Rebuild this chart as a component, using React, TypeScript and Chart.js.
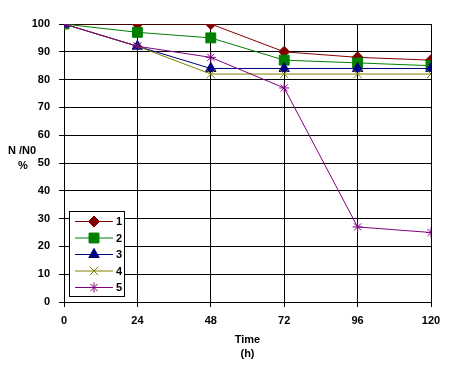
import React, { useEffect, useRef } from "react";
import { Chart, registerables } from "chart.js";
import { drawPoint } from "chart.js/helpers";

Chart.register(...registerables);

const timeHours = [0, 24, 48, 72, 96, 120];
const series1 = [100, 100, 100, 90, 88, 87];
const series2 = [100, 97, 95, 87, 86, 85];
const series3 = [100, 92, 84, 84, 84, 84];
const series4 = [100, 92, 82, 82, 82, 82];
const series5 = [100, 92, 88, 77, 27, 25];
const seriesLabels = ["1", "2", "3", "4", "5"];
const xTicks = [0, 24, 48, 72, 96, 120];

const FONT = "'Liberation Sans', Arial, sans-serif";

export default function App() {
  const ref = useRef<HTMLCanvasElement | null>(null);
  useEffect(() => {
    const canvas = ref.current;
    if (!canvas) return;
    const colors = ["#800000", "#008000", "#000080", "#808000", "#800080"];
    const styles = ["rectRot", "rect", "triangle", "crossRot", "star"];
    const radii = [5.5, 7, 6, 6, 5];
    const all = [series1, series2, series3, series4, series5];
    const datasets = all.map((s, i) => ({
      label: seriesLabels[i],
      data: s.map((v, j) => ({ x: timeHours[j], y: v })),
      borderColor: colors[i],
      backgroundColor: colors[i],
      borderWidth: 1,
      pointStyle: styles[i],
      pointRadius: radii[i],
      pointBorderWidth: 1,
      pointBorderColor: colors[i],
      pointBackgroundColor: colors[i],
      tension: 0,
      fill: false,
      order: 5 - i,
    }));

    const extras = {
      id: "extras",
      afterDraw(chart: any) {
        const ctx = chart.ctx;
        ctx.save();
        ctx.fillStyle = "#000";
        ctx.font = `bold 11px ${FONT}`;
        ctx.textAlign = "center";
        ctx.textBaseline = "middle";
        ctx.fillText("N /N0", 22, 151);
        ctx.fillText("%", 23, 166);
        const ca = chart.chartArea;
        const cx = (ca.left + ca.right) / 2;
        ctx.fillText("Time", cx, 340);
        ctx.fillText("(h)", cx, 354);
        // legend box
        ctx.fillStyle = "#fff";
        ctx.fillRect(69.5, 211.5, 55, 85);
        ctx.strokeStyle = "#000";
        ctx.lineWidth = 1;
        ctx.strokeRect(69.5, 211.5, 55, 85);
        const ys = [221, 237.5, 254, 270.5, 287];
        chart.data.datasets.forEach((ds: any, i: number) => {
          const y = ys[i];
          ctx.strokeStyle = ds.borderColor;
          ctx.lineWidth = 1;
          ctx.beginPath();
          ctx.moveTo(75, y + 0.5);
          ctx.lineTo(113, y + 0.5);
          ctx.stroke();
          ctx.fillStyle = ds.backgroundColor;
          ctx.strokeStyle = ds.borderColor;
          drawPoint(ctx, { pointStyle: ds.pointStyle, radius: ds.pointRadius, rotation: 0, borderWidth: 1 } as any, 94, y + 0.5);
          ctx.fillStyle = "#000";
          ctx.font = `bold 11px ${FONT}`;
          ctx.textAlign = "left";
          ctx.fillText(ds.label, 116, y + 1);
        });
        ctx.restore();
      },
    };

    const chart = new Chart(canvas, {
      type: "line",
      data: { datasets: datasets as any },
      options: {
        animation: false,
        responsive: false,
        devicePixelRatio: 1,
        layout: { padding: { top: 24, right: 26, left: 0, bottom: 0 } },
        plugins: { legend: { display: false }, tooltip: { enabled: false } },
        scales: {
          x: {
            type: "linear",
            min: 0,
            max: 120,
            afterBuildTicks: (s: any) => {
              s.ticks = xTicks.map((v) => ({ value: v }));
            },
            afterFit: (s: any) => {
              s.height = 79;
            },
            ticks: {
              color: "#000",
              font: { family: FONT, size: 11, weight: "bold" },
              padding: 7,
              maxRotation: 0,
              autoSkip: false,
            },
            grid: { color: "#000", lineWidth: 1, tickLength: 5, drawTicks: true },
            border: { color: "#000", width: 1 },
          },
          y: {
            min: 0,
            max: 100,
            ticks: {
              stepSize: 10,
              color: "#000",
              font: { family: FONT, size: 11, weight: "bold" },
              padding: 9,
            },
            afterFit: (s: any) => {
              s.width = 64;
            },
            grid: { color: "#000", lineWidth: 1, tickLength: 5, drawTicks: true },
            border: { color: "#000", width: 1 },
          },
        },
      },
      plugins: [extras],
    });
    return () => chart.destroy();
  }, []);
  return (
    <div style={{ position: "absolute", left: 0, top: 0, width: 457, height: 381, background: "#fff" }}>
      <canvas ref={ref} width={457} height={381} />
    </div>
  );
}
